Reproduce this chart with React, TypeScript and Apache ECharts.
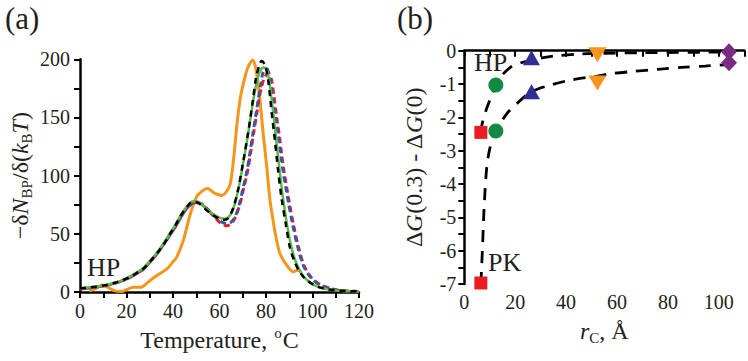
import React, { useEffect, useRef } from "react";
import * as echarts from "echarts";

// ---------- Panel (a) data: -dN_BP/d(k_B T) vs temperature ----------
const orangeCurve: [number, number][] = [
  [4, 1], [7, 3], [9.5, 6], [12, 4], [15, 1], [18, 0.5], [20, 2], [23, 4], [26, 4], [29, 8],
  [31.5, 12], [34.5, 16], [37.5, 20], [40, 26], [41.6, 30], [44.4, 44], [47.3, 66], [50.2, 82],
  [53, 87.5], [55, 89], [57, 86], [59, 84], [61, 83], [62.5, 85], [64.5, 92], [66, 113],
  [67.4, 142], [68.8, 165], [70, 177], [71, 185], [72, 192], [73.1, 196.5], [74.2, 199.5],
  [75.4, 194], [76.5, 180], [77.4, 165], [78.8, 136], [80.3, 108], [81.7, 79], [83, 62],
  [84, 50], [86, 33], [88.9, 23], [91.7, 17.5], [93.9, 19], [95.3, 16],
];

const blackCurve: [number, number][] = [
  [0, 3], [4, 4], [7, 4.6], [10, 5.5], [14.3, 7.5], [18, 10], [21.5, 13], [24.5, 16.5],
  [27.2, 20], [30, 26], [33, 33], [36, 41], [38.7, 50], [41, 57], [43, 64.5], [45.9, 73],
  [48.5, 77.5], [51, 76.5], [54, 71], [57.3, 66], [60, 63], [61.6, 62], [63.5, 63], [65.9, 72],
  [68.1, 89], [70.2, 112], [72.4, 138], [74.3, 164], [75.7, 184], [77.4, 196.5], [78.1, 198.5],
  [79.6, 195], [81, 181], [82.4, 155], [83.9, 129], [85.3, 103], [86.7, 80.5], [88.6, 57.6],
  [90.3, 38], [92.5, 25], [94.6, 17], [97, 11], [100.3, 6.5], [103, 4], [106, 2.5], [110, 1.5],
  [115, 0.8], [120, 0.5],
];

const greenCurve: [number, number][] = [
  [0, 3], [4, 4], [7, 4.6], [10, 5.5], [14.3, 7.5], [18, 10], [21.5, 13.5], [24.5, 17],
  [27.2, 20.5], [30, 26.5], [33, 33.5], [36, 42], [38.7, 50.5], [41, 58], [43, 65], [45.9, 73.5],
  [48.7, 78], [51.5, 77], [54, 72], [57.3, 67], [60, 64], [62, 63], [64, 64.5], [66, 72],
  [68.1, 88], [70.2, 111], [72.4, 137], [74.3, 162], [76, 180], [77.5, 190], [79, 193],
  [80.3, 191], [81.5, 180], [83, 156], [84.5, 129], [86, 102], [87.5, 78], [89.2, 56], [91, 38],
  [93, 25], [95.2, 16], [97.5, 10.5], [100.5, 6], [104, 3.5], [108, 2], [112, 1], [120, 0.5],
];

const blueCurve: [number, number][] = [
  [0, 2.5], [4, 3.5], [7, 4.3], [10, 5.2], [14.3, 7.2], [18, 9.5], [21.5, 12.5], [24.5, 16],
  [27.2, 19.5], [30, 25.5], [33, 32.5], [36, 41], [38.7, 49], [41, 56], [43, 63], [46, 72],
  [49.5, 77], [52.5, 75.5], [55.5, 70], [58.5, 64], [61, 60], [63.1, 59], [65, 60], [67, 66],
  [68.8, 77.6], [70.2, 90], [71.7, 103], [73.2, 121], [74.5, 138], [75.7, 153], [76.7, 166],
  [77.8, 179], [78.8, 189], [80.3, 192], [81.7, 183.6], [83.1, 163.6], [84.2, 149], [85.3, 135],
  [86.3, 119], [87.4, 103], [88.5, 90], [89.6, 77.6], [91.5, 57.6], [93.5, 40], [96, 23],
  [99, 13], [102, 7.5], [106, 4], [110.5, 1.7], [115, 0.8], [120, 0.5],
];

const redCurve: [number, number][] = [
  [0, 2.5], [4, 3.5], [7, 4.3], [10, 5.2], [14.3, 7.2], [18, 9.5], [21.5, 12.5], [24.5, 16],
  [27.2, 19.5], [30, 25.5], [33, 32.5], [36, 41], [38.7, 49], [41, 56], [43, 63], [46, 72],
  [49.5, 77], [52.5, 75], [55.5, 69.5], [58.5, 63], [61, 58.5], [63, 57], [65, 58.5], [67, 65],
  [69, 77], [70.5, 90], [72, 103], [73.5, 121], [74.8, 138], [76, 153], [77, 166], [78.2, 177],
  [79.5, 185], [81, 188], [82.3, 183], [83.5, 167], [84.6, 150], [85.7, 135], [86.7, 119],
  [87.8, 103], [88.9, 90], [90, 77], [91.9, 57], [93.8, 40], [96.3, 23], [99.3, 13],
  [102.3, 7.5], [106.3, 4], [110.5, 1.8], [115, 0.8], [120, 0.5],
];

const aXLabels = [0, 20, 40, 60, 80, 100, 120];
const aXTicks = [0, 10, 20, 30, 40, 50, 60, 70, 80, 90, 100, 110, 120];
const aYLabels = [0, 50, 100, 150, 200];
const aYTicks = [0, 25, 50, 75, 100, 125, 150, 175, 200];

// ---------- Panel (b) data: dG(0.3) - dG(0) vs r_C ----------
const squarePts: [number, number][] = [[6.5, -2.45], [6.5, -6.97]];
const circlePts: [number, number][] = [[12.4, -1.03], [12.4, -2.41]];
const trianglePts: [number, number][] = [[26.4, -0.21], [26.4, -1.23]];
const downTrianglePts: [number, number][] = [[52.3, -0.12], [52.3, -0.97]];
const diamondPts: [number, number][] = [[104, -0.03], [104, -0.36]];

const hpFit: [number, number][] = [
  [6.5, -2.45], [6.9, -2.23], [8.5, -1.8], [10.2, -1.45], [12.1, -1.08], [14.1, -0.8],
  [18.1, -0.5], [22, -0.37], [26.4, -0.28], [31, -0.21], [36.5, -0.15], [45, -0.1],
  [52.3, -0.08], [70, -0.06], [104, -0.04],
];
const pkFit: [number, number][] = [
  [6.5, -7], [6.8, -6.5], [7.1, -6.0], [7.8, -4.68], [8.85, -3.48], [10.2, -2.88],
  [12.4, -2.41], [16.8, -1.88], [20.7, -1.58], [26.4, -1.23], [33.9, -1.03], [41.8, -0.88],
  [52.3, -0.76], [57.6, -0.69], [66.8, -0.62], [76, -0.56], [85.3, -0.5], [94.5, -0.46],
  [104, -0.42],
];

const bXLabels = [0, 20, 40, 60, 80, 100];
const bXTicks = [0, 10, 20, 30, 40, 50, 60, 70, 80, 90, 100, 110];
const bYLabels = [0, -1, -2, -3, -4, -5, -6, -7];
const bYTicks = [0, -0.5, -1, -1.5, -2, -2.5, -3, -3.5, -4, -4.5, -5, -5.5, -6, -6.5, -7];

const FONT = "Liberation Serif";
const TXT = "#231f20";

const nameRich = {
  n: { fontFamily: FONT, fontSize: 24, color: TXT },
  i: { fontFamily: FONT, fontSize: 24, color: TXT, fontStyle: "italic" },
  s: { fontFamily: FONT, fontSize: 15, color: TXT, padding: [14, 0, 0, 0] },
  sup: { fontFamily: FONT, fontSize: 15, color: TXT, padding: [0, 1, 14, 1] },
};

const axisCommon = {
  axisLine: { show: true, lineStyle: { color: "#000", width: 2.5 } },
  splitLine: { show: false },
};

export default function App() {
  const ref = useRef<HTMLDivElement>(null);
  useEffect(() => {
    if (!ref.current) return;
    const chart = echarts.init(ref.current, null, { renderer: "svg" });
    const lineSeries = (
      data: [number, number][],
      color: string,
      width: number,
      type: any,
      idx: number,
      z: number,
      dashOffset = 0
    ) => ({
      type: "line",
      xAxisIndex: idx,
      yAxisIndex: idx,
      data,
      smooth: 0.3,
      showSymbol: false,
      symbol: "none",
      z,
      lineStyle: { color, width, type, dashOffset, cap: "butt" },
    });
    const scatter = (data: [number, number][], color: string, symbol: string, size: any, rotate = 0) => ({
      type: "scatter",
      xAxisIndex: 1,
      yAxisIndex: 1,
      data,
      symbol,
      symbolSize: size,
      symbolRotate: rotate,
      itemStyle: { color, opacity: 1 },
      z: 10,
    });
    chart.setOption({
      animation: false,
      backgroundColor: "#fff",
      grid: [
        { left: 80, top: 59.3, width: 279, height: 232.7, containLabel: false },
        { left: 464.3, top: 50.7, width: 280, height: 233.3, containLabel: false },
      ],
      xAxis: [
        {
          ...axisCommon,
          type: "value",
          gridIndex: 0,
          min: 0,
          max: 120,
          axisTick: { show: true, customValues: aXTicks, length: 6, lineStyle: { color: "#000", width: 2 } },
          axisLabel: { customValues: aXLabels, fontFamily: FONT, fontSize: 20, color: TXT, margin: 9 },
          name: "{n|Temperature, }{sup|o}{n|C}",
          nameLocation: "middle",
          nameGap: 31,
          nameTextStyle: { rich: nameRich },
        },
        {
          ...axisCommon,
          type: "value",
          gridIndex: 1,
          min: 0,
          max: 110,
          axisTick: { show: true, customValues: bXTicks, length: 6, lineStyle: { color: "#000", width: 2 } },
          axisLabel: { customValues: bXLabels, fontFamily: FONT, fontSize: 20, color: TXT, margin: 8 },
          name: "{i|r}{s|C}{n|, Å}",
          nameLocation: "middle",
          nameGap: 32,
          nameTextStyle: { rich: nameRich },
        },
      ],
      yAxis: [
        {
          ...axisCommon,
          type: "value",
          gridIndex: 0,
          min: 0,
          max: 200,
          axisTick: { show: true, customValues: aYTicks, length: 6, lineStyle: { color: "#000", width: 2 } },
          axisLabel: { customValues: aYLabels, fontFamily: FONT, fontSize: 20, color: TXT, margin: 10 },
          name: "{n|−δ}{i|N}{s|BP}{n|/δ(}{i|k}{s|B}{i|T}{n|)}",
          nameLocation: "middle",
          nameRotate: 90,
          nameGap: 46,
          nameTextStyle: { rich: nameRich },
        },
        {
          ...axisCommon,
          type: "value",
          gridIndex: 1,
          min: -7,
          max: 0,
          axisTick: { show: true, customValues: bYTicks, length: 6, lineStyle: { color: "#000", width: 2 } },
          axisLabel: { customValues: bYLabels, fontFamily: FONT, fontSize: 20, color: TXT, margin: 8 },
          name: "{n|Δ}{i|G}{n|(0.3) - Δ}{i|G}{n|(0)}",
          nameLocation: "middle",
          nameRotate: 90,
          nameGap: 38,
          nameTextStyle: { rich: nameRich },
        },
      ],
      series: [
        lineSeries(orangeCurve, "#f7941d", 3, "solid", 0, 2),
        lineSeries(redCurve, "#ed1c24", 3, [6, 4], 0, 3),
        lineSeries(blueCurve, "#3a57a7", 3, [6, 4], 0, 4, 5),
        lineSeries(greenCurve, "#5cb848", 2.5, "solid", 0, 5),
        lineSeries(blackCurve, "#000000", 2.5, [6, 5], 0, 6),
        lineSeries(hpFit, "#000000", 2.8, [12, 9], 1, 3),
        lineSeries(pkFit, "#000000", 2.8, [12, 9], 1, 3),
        scatter(squarePts, "#ed1c24", "rect", 13),
        scatter(circlePts, "#138a43", "circle", 15),
        scatter(trianglePts, "#2e3192", "triangle", [17, 15]),
        scatter(downTrianglePts, "#f7941d", "triangle", [18, 15], 180),
        scatter(diamondPts, "#7b2b83", "diamond", [16, 17]),
      ],
      graphic: [
        { type: "text", left: 5, top: 3, style: { text: "(a)", font: `31px "${FONT}"`, fill: TXT } },
        { type: "text", left: 397, top: 3, style: { text: "(b)", font: `31px "${FONT}"`, fill: TXT } },
        { type: "text", x: 87, y: 267, style: { text: "HP", font: `26px "${FONT}"`, fill: TXT, verticalAlign: "middle" } },
        { type: "text", x: 474, y: 62, style: { text: "HP", font: `26px "${FONT}"`, fill: TXT, verticalAlign: "middle" } },
        { type: "text", x: 488, y: 262, style: { text: "PK", font: `26px "${FONT}"`, fill: TXT, verticalAlign: "middle" } },
      ],
    });
    return () => chart.dispose();
  }, []);
  return (
    <div
      ref={ref}
      style={{ position: "absolute", left: 0, top: 0, width: 748, height: 361, background: "#fff" }}
    />
  );
}
